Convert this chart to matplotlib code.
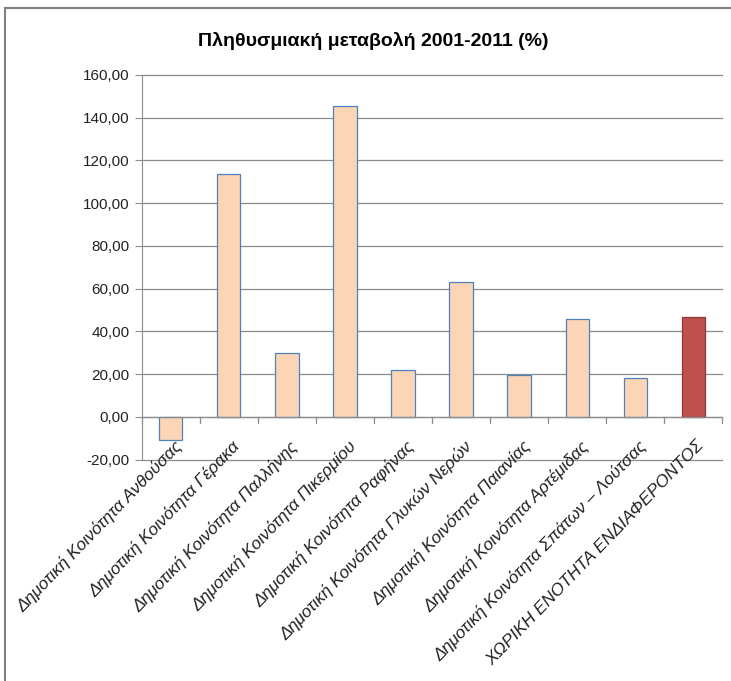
import numpy as np
import matplotlib.pyplot as plt
from matplotlib.patches import Rectangle

# data
labels = ['Δημοτική Κοινότητα Ανθούσας', 'Δημοτική Κοινότητα Γέρακα',
          'Δημοτική Κοινότητα Παλλήνης', 'Δημοτική Κοινότητα Πικερμίου',
          'Δημοτική Κοινότητα Ραφήνας', 'Δημοτική Κοινότητα Γλυκών Νερών',
          'Δημοτική Κοινότητα Παιανίας', 'Δημοτική Κοινότητα Αρτέμιδας',
          'Δημοτική Κοινότητα Σπάτων – Λούτσας', 'ΧΩΡΙΚΗ ΕΝΟΤΗΤΑ ΕΝΔΙΑΦΕΡΟΝΤΟΣ']
values = [-10.6, 113.8, 29.9, 145.3, 22.1, 63.1, 19.7, 45.8, 18.3, 46.7]
yticks = [-20, 0, 20, 40, 60, 80, 100, 120, 140, 160]

plt.rcParams['font.family'] = ['Liberation Sans Narrow', 'Liberation Sans', 'DejaVu Sans']

fig = plt.figure(figsize=(7.31, 6.81), dpi=100)
ax = fig.add_axes([0.194, 0.325, 0.794, 0.565])

x = np.arange(len(values))
colors = ['#FBD5B5'] * (len(values) - 1) + ['#C0504D']
edges = ['#4F81BD'] * (len(values) - 1) + ['#8C3836']
ax.bar(x, values, width=0.4, color=colors, edgecolor=edges, linewidth=0.9, zorder=3)

ax.set_ylim(-20, 160)
ax.set_xlim(-0.5, len(values) - 0.5)
ax.set_yticks(yticks)
ax.set_yticklabels([('%.2f' % v).replace('.', ',') for v in yticks], fontsize=11, color='#222222')
ax.tick_params(axis='y', length=5, color='#8C8C8C', pad=4)
for v in yticks:
    ax.axhline(v, color='#8C8C8C', linewidth=0.9, zorder=0, clip_on=False)

for s in ['top', 'right', 'bottom']:
    ax.spines[s].set_visible(False)
ax.spines['left'].set_color('#8C8C8C')

# category axis drawn at zero with boundary tick marks
ax.axhline(0, color='#8C8C8C', linewidth=0.9, zorder=4)
for b in np.arange(-0.5, len(values) + 0.5, 1):
    ax.plot([b, b], [0, -2.8], color='#8C8C8C', linewidth=0.9, zorder=4, clip_on=False)

# category labels sit just under the zero axis, rotated like Excel does
ax.set_xticks([])
for i, lab in enumerate(labels):
    ax.text(i + 0.05, -10.0, lab, rotation=46, ha='right', va='top', rotation_mode='anchor',
            fontsize=12.5, style='italic', color='#222222', zorder=5)

fig.text(0.51, 0.94, 'Πληθυσμιακή μεταβολή 2001-2011 (%)', ha='center', va='center',
         fontsize=14, fontweight='bold')

# outer chart border
fig.patches.append(Rectangle((0.007, -0.1), 1.2, 1.088, transform=fig.transFigure,
                             fill=False, edgecolor='#7F7F7F', linewidth=1.5))

fig.savefig('out.png', dpi=100)
